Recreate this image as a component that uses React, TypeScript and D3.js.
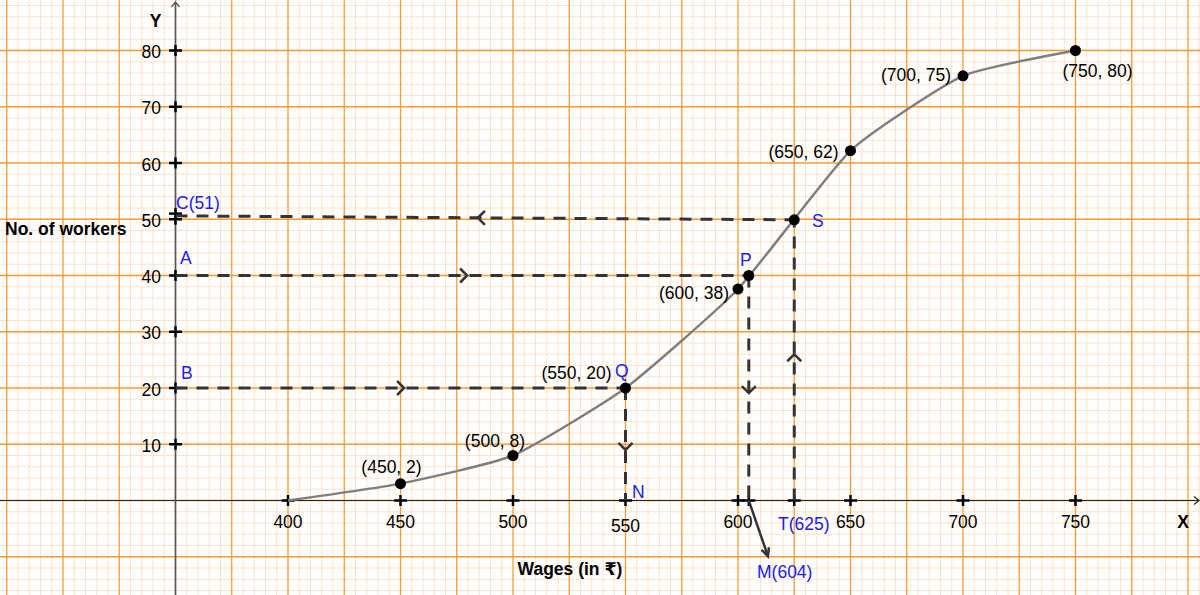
import React from 'react';
import * as d3 from 'd3';

const W = 1200;
const H = 595;

// ogive (less than type) – plotted positions
const wages = [400, 450, 500, 550, 600, 650, 700, 750];
const workers = [0, 3, 8, 20, 37.6, 62.2, 75.5, 80];
const pointLabels = ['', '(450, 2)', '(500, 8)', '(550, 20)', '(600, 38)', '(650, 62)', '(700, 75)', '(750, 80)'];

const xTicks = [400, 450, 500, 550, 600, 650, 700, 750];
const yTicks = [10, 20, 30, 40, 50, 60, 70, 80];

// construction values
const lowerQ = 20;     // B
const median = 40;     // A
const upperQ = 51;     // C
const qX = 550;        // N
const mX = 604.8;      // M(604), as drawn
const tX = 625;        // T(625)
const sY = 49.9;       // S on the curve

const guides = [
  { x1: 350, y1: 50.6, x2: tX, y2: sY, at: 484.4, dir: 'left' },
  { x1: 350, y1: median, x2: mX, y2: median, at: 479.6, dir: 'right' },
  { x1: 350, y1: lowerQ, x2: qX, y2: lowerQ, at: 451.6, dir: 'right' },
  { x1: qX, y1: lowerQ, x2: qX, y2: 0, at: 9, dir: 'down' },
  { x1: mX, y1: median, x2: mX, y2: 0, at: 19.1, dir: 'down' },
  { x1: tX, y1: 0, x2: tX, y2: sY, at: 26, dir: 'up' },
];

const FONT = '"Liberation Sans", Arial, "DejaVu Sans", sans-serif';
const BLUE = '#2020ee';
const FS = 17.5;

const x = d3.scaleLinear().domain([272, 350 + 1024.5 / 2.25]).range([0, W]);
const y = d3.scaleLinear().domain([500.5 / 5.625, -94.5 / 5.625]).range([0, H]);

// label offsets from each dot (px): dx, dy, anchor
const labelPos: [number, number, string][] = [
  [0, 0, 'middle'],
  [-9, -17, 'middle'],
  [-18, -15, 'middle'],
  [-14, -15, 'end'],
  [-9, 4, 'end'],
  [-12, 1, 'end'],
  [-12, -1, 'end'],
  [-13, 20, 'start'],
];

function Cross({ cx, cy }: { cx: number; cy: number }) {
  return (
    <g stroke="#000" strokeWidth={2.5}>
      <line x1={cx - 6.5} x2={cx + 6.5} y1={cy} y2={cy} />
      <line x1={cx} x2={cx} y1={cy - 5.5} y2={cy + 5.5} />
    </g>
  );
}

function chevron(g: typeof guides[number]) {
  const a = 7;
  let tx: number, ty: number, dx = 0, dy = 0;
  if (g.dir === 'left' || g.dir === 'right') {
    tx = x(g.at);
    const t = (g.at - g.x1) / (g.x2 - g.x1);
    ty = y(g.y1 + t * (g.y2 - g.y1));
    dx = g.dir === 'right' ? 1 : -1;
  } else {
    tx = x(g.x1);
    ty = y(g.at);
    dy = g.dir === 'down' ? 1 : -1;
  }
  const px = -dy, py = dx;
  const p1 = [tx - a * dx + a * px, ty - a * dy + a * py];
  const p2 = [tx - a * dx - a * px, ty - a * dy - a * py];
  return `M${p1[0]},${p1[1]}L${tx},${ty}L${p2[0]},${p2[1]}`;
}

export default function App() {
  const minorX = d3.range(275, 806, 5).filter(v => v % 25 !== 0);
  const majorX = d3.range(275, 806, 25);
  const minorY = d3.range(-16, 89, 2).filter(v => v % 10 !== 0);
  const majorY = d3.range(-10, 89, 10);

  const line = d3.line<number>()
    .x((_, i) => x(wages[i]))
    .y(d => y(d))
    .curve(d3.curveCardinal.tension(0.5));

  // M arrow end (below the axis)
  const mEnd = [x(613.3), y(-9.9)];
  const mStart = [x(mX), y(0)];
  const ang = Math.atan2(mEnd[1] - mStart[1], mEnd[0] - mStart[0]);
  const ah = 9;
  const arrowHead = `M${mEnd[0] - ah * Math.cos(ang - 0.45)},${mEnd[1] - ah * Math.sin(ang - 0.45)}L${mEnd[0]},${mEnd[1]}L${mEnd[0] - ah * Math.cos(ang + 0.45)},${mEnd[1] - ah * Math.sin(ang + 0.45)}`;

  return (
    <svg width={W} height={H} style={{ position: 'absolute', left: 0, top: 0, background: '#fff' }} fontFamily={FONT}>
      <rect width={W} height={H} fill="#fff" />
      {/* graph paper */}
      <g stroke="#ffe2c6" strokeWidth={1}>
        {minorX.map(v => <line key={'mx' + v} x1={x(v)} x2={x(v)} y1={0} y2={H} />)}
        {minorY.map(v => <line key={'my' + v} x1={0} x2={W} y1={y(v)} y2={y(v)} />)}
      </g>
      <g stroke="#ff9a33" strokeWidth={1.3}>
        {majorX.map(v => <line key={'Mx' + v} x1={x(v)} x2={x(v)} y1={0} y2={H} />)}
        {majorY.map(v => <line key={'My' + v} x1={0} x2={W} y1={y(v)} y2={y(v)} />)}
      </g>

      {/* axes */}
      <line x1={0} x2={1198} y1={y(0)} y2={y(0)} stroke="#222" strokeWidth={1.2} />
      <path d={`M${1194},${y(0) - 4}L1199,${y(0)}L1194,${y(0) + 4}`} fill="none" stroke="#222" strokeWidth={1.2} />
      <line x1={x(350)} x2={x(350)} y1={2} y2={H} stroke="#555" strokeWidth={1.6} />
      <path d={`M${x(350) - 4},7L${x(350)},2L${x(350) + 4},7`} fill="none" stroke="#555" strokeWidth={1.3} />
      <text x={155.5} y={21} dy="0.35em" textAnchor="middle" fontWeight="bold" fontSize={FS}>Y</text>
      <text x={1183} y={522} dy="0.35em" textAnchor="middle" fontWeight="bold" fontSize={FS}>X</text>
      <text x={5} y={229} dy="0.35em" fontWeight="bold" fontSize={FS}>No. of workers</text>
      <text x={570} y={569} dy="0.35em" textAnchor="middle" fontWeight="bold" fontSize={FS}>Wages (in ₹)</text>

      {/* ticks */}
      {xTicks.map(v => (
        <g key={'xt' + v}>
          <Cross cx={x(v)} cy={y(0)} />
          <text x={x(v)} y={v === 550 ? 526 : 522} dy="0.35em" textAnchor="middle" fontSize={FS}>{v}</text>
        </g>
      ))}
      {[mX, tX].map(v => <Cross key={'xe' + v} cx={x(v)} cy={y(0)} />)}
      {yTicks.map(v => (
        <g key={'yt' + v}>
          <Cross cx={x(350)} cy={y(v)} />
          <text x={161} y={y(v) + 1.5} dy="0.35em" textAnchor="end" fontSize={FS}>{v}</text>
        </g>
      ))}
      <Cross cx={x(350)} cy={y(upperQ)} />

      {/* ogive */}
      <path d={line(workers) || ''} fill="none" stroke="#7f7f7f" strokeWidth={2.5} />

      {/* construction lines */}
      <g stroke="#333" strokeWidth={3} fill="none">
        {guides.map((g, i) => (
          <g key={'g' + i}>
            <line x1={x(g.x1)} y1={y(g.y1)} x2={x(g.x2)} y2={y(g.y2)} strokeDasharray="12 9" />
            <path d={chevron(g)} strokeWidth={2.5} />
          </g>
        ))}
        <line x1={mStart[0]} y1={mStart[1]} x2={mEnd[0]} y2={mEnd[1]} strokeWidth={2.5} />
        <path d={arrowHead} strokeWidth={2.5} />
      </g>

      {/* points */}
      {wages.map((w, i) => i > 0 && (
        <g key={'p' + w}>
          <circle cx={x(w)} cy={y(workers[i])} r={5.5} fill="#000" />
          <text x={x(w) + labelPos[i][0]} y={y(workers[i]) + labelPos[i][1]} dy="0.35em"
            textAnchor={labelPos[i][2]} fontSize={FS}>{pointLabels[i]}</text>
        </g>
      ))}
      <circle cx={x(mX)} cy={y(median)} r={5.5} fill="#000" />
      <circle cx={x(tX)} cy={y(sY)} r={5.5} fill="#000" />

      {/* blue labels */}
      <g fill={BLUE} fontSize={FS}>
        <text x={176} y={203} dy="0.35em">C(51)</text>
        <text x={180} y={258} dy="0.35em">A</text>
        <text x={181} y={373} dy="0.35em">B</text>
        <text x={740} y={260} dy="0.35em">P</text>
        <text x={615} y={371} dy="0.35em">Q</text>
        <text x={812} y={221} dy="0.35em">S</text>
        <text x={632} y={492} dy="0.35em">N</text>
        <text x={778} y={524} dy="0.35em">T(625)</text>
        <text x={757} y={572} dy="0.35em">M(604)</text>
      </g>
    </svg>
  );
}
